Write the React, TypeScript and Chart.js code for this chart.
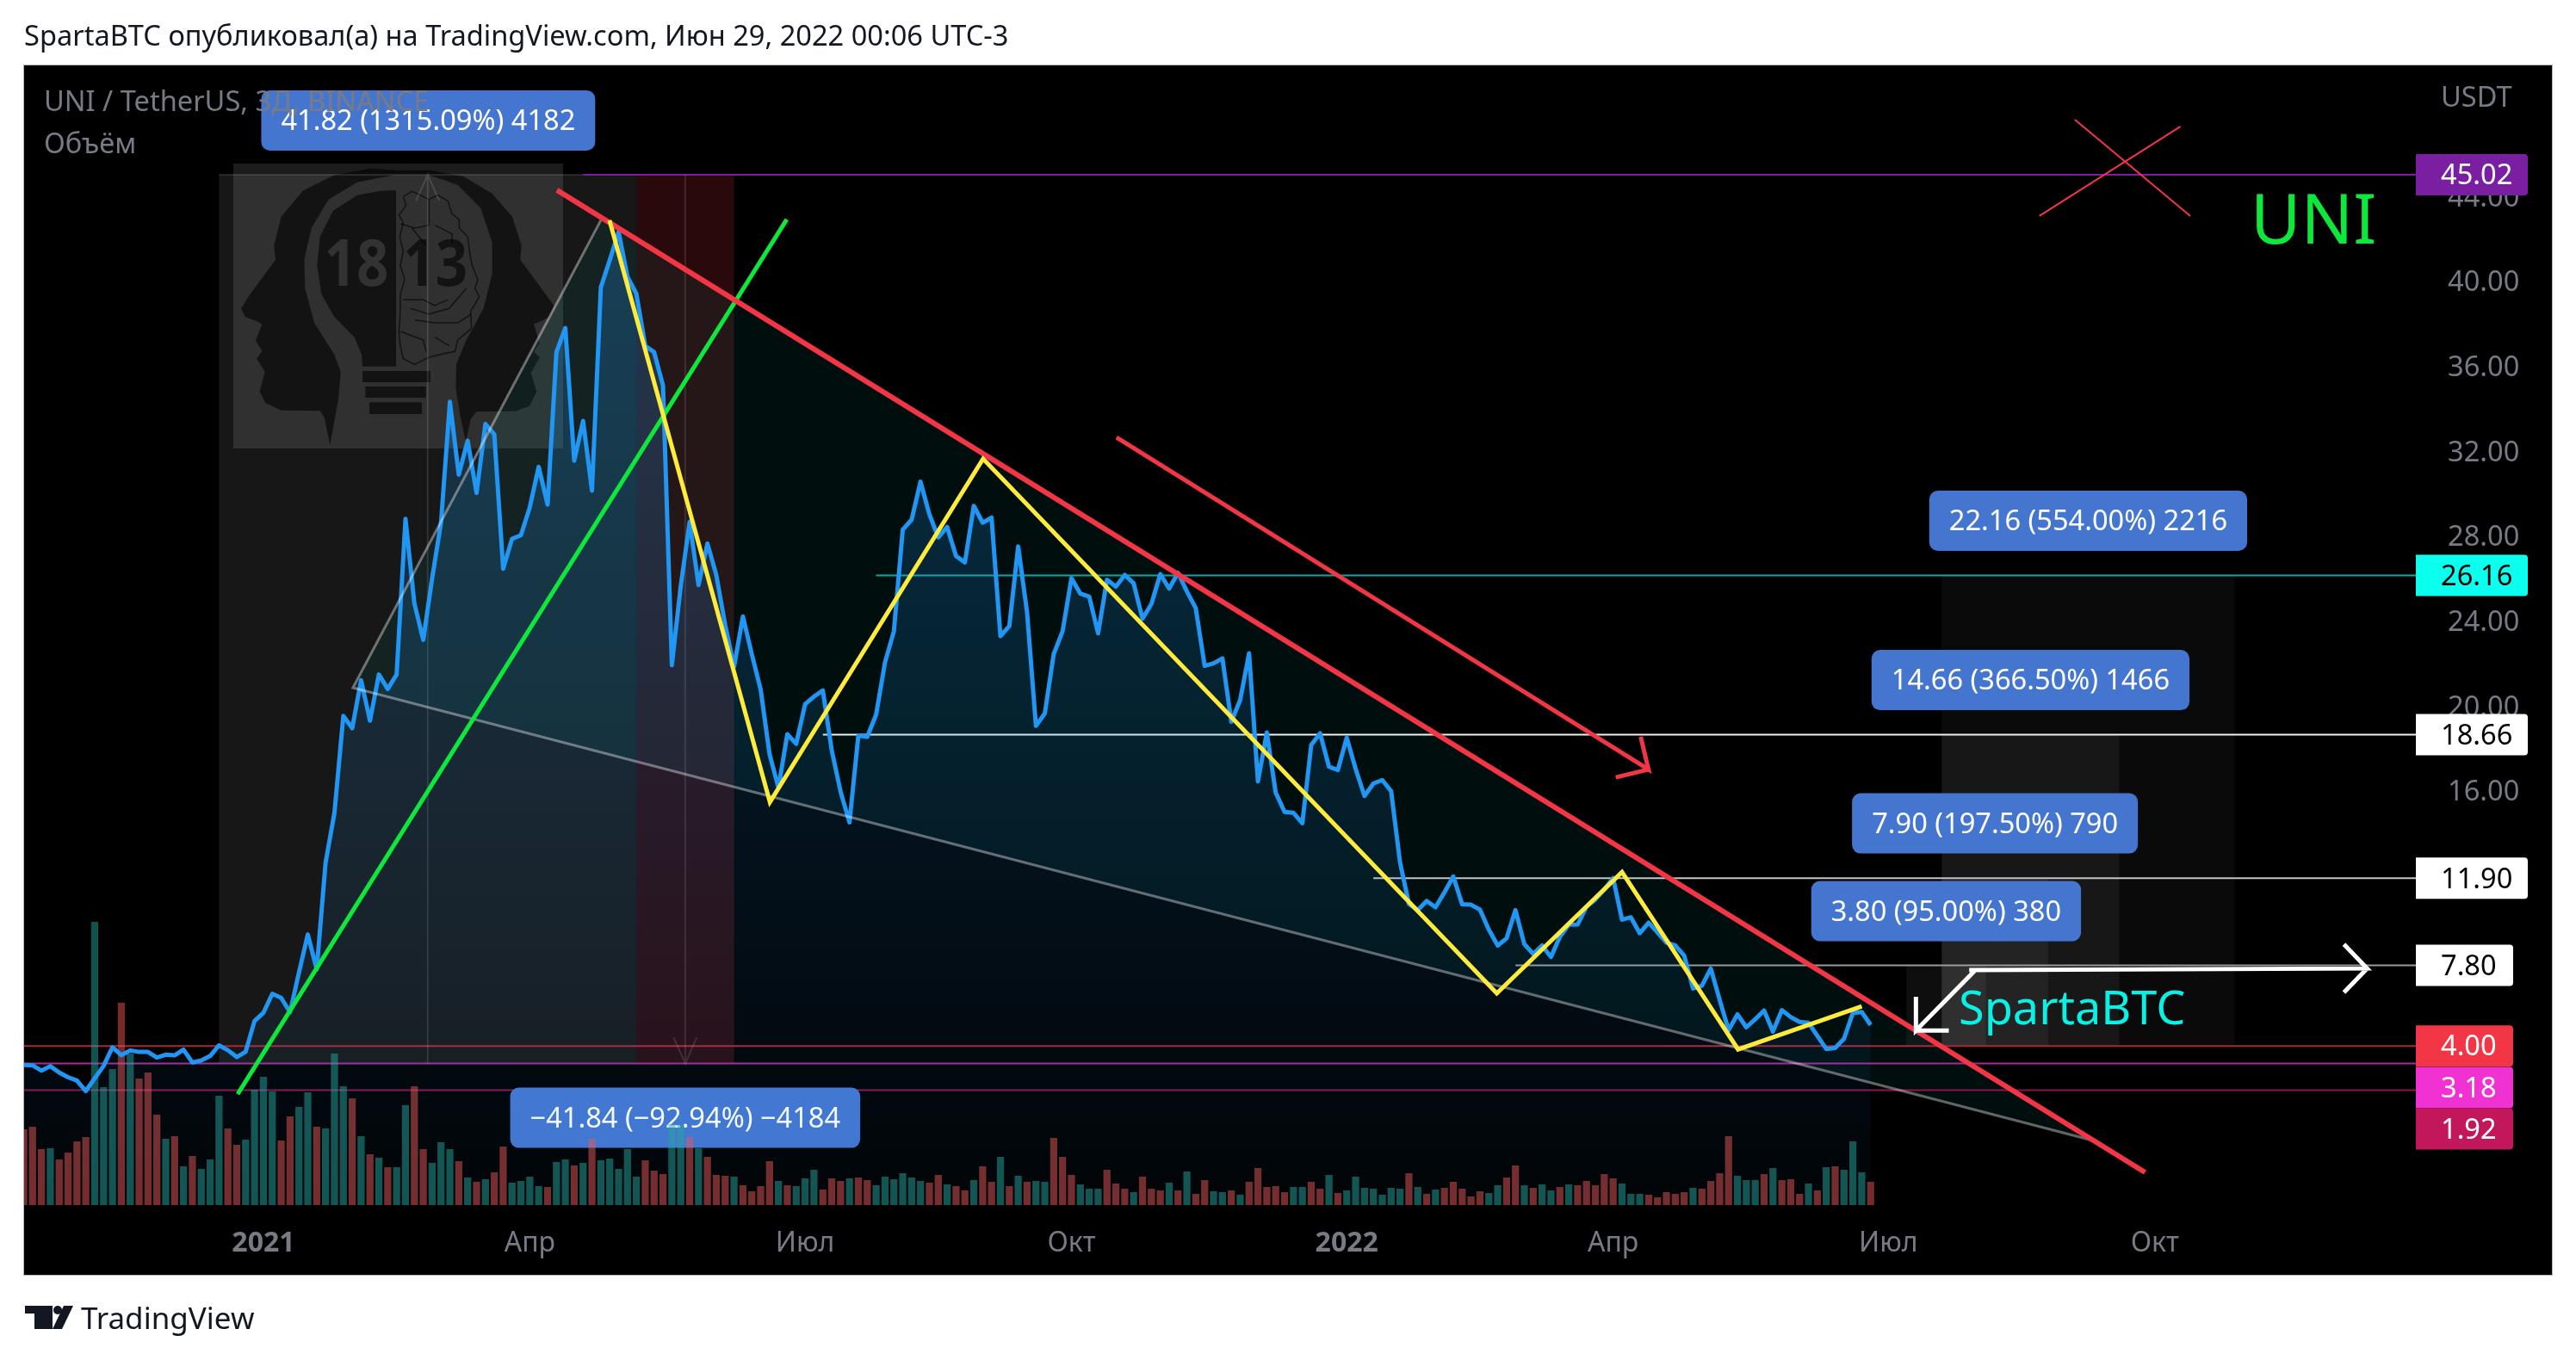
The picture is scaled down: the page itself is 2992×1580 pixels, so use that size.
import Chart from 'chart.js/auto';
import { useEffect, useRef } from 'react';

// bars are counted from the first 3-day candle of 2021, older ones are negative
const firstBar = -27;

const closes = [
    3.11, 3.09, 2.84, 3.05, 2.75, 2.53, 2.37, 1.88,
    2.48, 3.06, 3.94, 3.57, 3.79, 3.72, 3.72, 3.46, 3.59, 3.56,
    3.83, 3.22, 3.32, 3.53, 4.03, 3.80, 3.48, 3.73, 5.18, 5.56,
    6.46, 6.27, 5.59, 7.45, 9.25, 7.60, 12.63, 14.98, 19.54, 18.96,
    21.22, 19.32, 21.49, 20.81, 21.49, 28.82, 24.84, 23.12, 26.02, 28.64,
    34.33, 30.90, 32.50, 30.04, 33.29, 32.80, 26.47, 27.88, 28.05, 29.37,
    31.27, 29.49, 36.67, 37.81, 31.56, 33.43, 30.15, 39.72, 41.00, 42.33,
    40.21, 39.42, 36.97, 36.67, 35.10, 21.93, 25.67, 28.68, 25.70, 27.66,
    26.18, 23.83, 21.86, 24.22, 22.45, 20.78, 17.74, 16.16, 18.68, 18.23,
    20.09, 20.45, 20.74, 17.93, 15.97, 14.53, 18.62, 18.56, 19.60, 22.06,
    23.53, 28.31, 28.78, 30.57, 29.03, 27.95, 28.44, 27.07, 26.77, 29.43,
    28.64, 28.88, 23.30, 23.77, 27.52, 24.42, 19.07, 19.66, 22.45, 23.53,
    26.03, 25.30, 25.16, 23.43, 25.95, 25.63, 26.18, 25.79, 24.12, 24.81,
    26.22, 25.54, 26.28, 25.40, 24.61, 21.90, 22.02, 22.25, 19.27, 20.29,
    22.49, 16.46, 18.76, 15.93, 15.02, 14.98, 14.49, 18.17, 18.72, 17.15,
    16.99, 18.52, 17.05, 15.77, 16.36, 16.52, 16.00, 12.65, 10.69, 10.40,
    10.83, 10.53, 11.23, 11.98, 10.67, 10.65, 10.42, 9.48, 8.73, 9.07,
    10.40, 8.80, 8.33, 8.73, 8.19, 9.14, 9.71, 9.72, 10.56, 10.90,
    11.37, 11.91, 9.95, 10.06, 9.31, 9.81, 9.34, 8.87, 8.73, 8.26,
    6.71, 6.84, 7.65, 6.17, 4.75, 5.49, 4.88, 5.26, 5.67, 4.68,
    5.69, 5.36, 5.13, 5.09, 4.48, 3.86, 3.91, 4.34, 5.56, 5.60, 4.99,
];

const volumes = [
    88, 91, 65, 66, 53, 61, 74, 79,
    329, 137, 158, 235, 176, 147, 154, 105, 77, 80,
    45, 57, 42, 53, 127, 89, 70, 76, 134, 149,
    132, 75, 103, 114, 131, 91, 89, 176, 138, 124,
    80, 59, 55, 44, 44, 116, 138, 65, 49, 73,
    65, 51, 32, 27, 30, 38, 68, 26, 28, 33,
    22, 21, 50, 53, 46, 49, 77, 52, 54, 42,
    65, 33, 52, 40, 36, 94, 93, 79, 66, 56,
    35, 34, 33, 23, 16, 22, 51, 28, 23, 22,
    31, 41, 18, 31, 28, 31, 32, 29, 23, 33,
    30, 37, 32, 28, 26, 35, 24, 22, 17, 29,
    45, 27, 56, 22, 34, 27, 28, 27, 78, 56,
    35, 24, 19, 19, 41, 25, 19, 15, 33, 19,
    17, 26, 17, 39, 13, 29, 16, 15, 17, 12,
    27, 43, 21, 22, 15, 21, 21, 27, 19, 35,
    14, 17, 33, 20, 19, 12, 20, 19, 37, 21,
    13, 18, 20, 27, 19, 10, 16, 14, 23, 32,
    46, 23, 20, 24, 17, 21, 24, 23, 28, 23,
    36, 31, 25, 13, 13, 12, 9, 15, 13, 15,
    20, 19, 28, 37, 80, 34, 29, 29, 36, 43,
    29, 30, 13, 25, 17, 44, 45, 41, 74, 38, 27,
];

// R = candle closed down, G = closed up
const volumeDirs = (
    'RRRGRRRR' + 'GGGRGRRRGR' + 'GRGGGRRGGG' + 'GRRGGRGGGR' + 'GRGRGGRRGG' +
    'GRGRGRRGGG' + 'GRGGRGRGGG' + 'GGRRRGGRGR' + 'RRGRRRRGRG' + 'GGRRRGRRGG' +
    'GGGGRRGRRG' + 'RRGRGRGGRR' + 'RGGGRRRGRR' + 'RGRGRRGGRG' + 'RRRRRGGRRG' +
    'RGGGGGGGRG' + 'RGRRRRRGGR' + 'RGRGGRGRRR' + 'RRGGGRR'
).split('');

const xTickBars = [0, 30, 61, 91, 122, 152, 183, 213];
const xTickLabels = ['2021', 'Апр', 'Июл', 'Окт', '2022', 'Апр', 'Июл', 'Окт'];
const boldTicks = ['2021', '2022'];
const yTicks = [4, 8, 12, 16, 20, 24, 28, 32, 36, 40, 44];

const levelPrices = [45.02, 26.16, 18.66, 11.9, 7.8, 4, 3.18, 1.92];
const levelStarts = [36, 69, 63, 125, 141, -27, -27, -27];
const levelColors = ['#7b1fa2', '#13a6a6', '#f0f0f0', '#c4c4c4', '#9a9a9a', '#a8283c', '#a92a96', '#8a1548'];
const badgeColors = ['#7b1fa2', '#0affee', '#ffffff', '#ffffff', '#ffffff', '#f23645', '#f032d2', '#c2185b'];
const badgeTextColors = ['#fff', '#000', '#000', '#000', '#000', '#fff', '#fff', '#fff'];
const badgeWidths = [130, 130, 130, 130, 113, 113, 113, 113];
const badgeShifts = [0, 0, 0, 0, 0, 0, 28, 45];

const zigzagBars = [38.97, 57.04, 81.05, 138.9, 153, 166.07, 180];
const zigzagPrices = [42.88, 15.48, 31.65, 6.48, 12.19, 3.84, 5.87];
const mainTrendBars = [33.06, 211.9];
const mainTrendPrices = [44.3, -1.95];
const greenTrendBars = [-2.9, 58.94];
const greenTrendPrices = [1.73, 42.92];
const arrowBars = [96.07, 155.98, 155.1, 155.98, 152.3];
const arrowPrices = [32.66, 17.02, 18.56, 17.02, 16.65];
const wedgeBars = [38, 10.08, 206.4];
const wedgePrices = [42.88, 20.87, -0.49];
const crossABars = [204, 217];
const crossAPrices = [47.62, 43.08];
const crossBBars = [215.9, 200];
const crossBPrices = [47.3, 43.08];
const whiteRightBars = [192.1, 236.9, 234.3, 236.9, 234.3];
const whiteRightPrices = [7.57, 7.65, 8.79, 7.65, 6.52];
const whiteDiagBars = [192.7, 186.1, 186.1, 186.1, 189.8];
const whiteDiagPrices = [7.53, 4.73, 6.32, 4.73, 4.73];
const upRangeBars = [18.5, 18.5, 17.2, 18.5, 19.8];
const upRangePrices = [3.18, 45.02, 43.8, 45.02, 43.8];
const downRangeBars = [47.5, 47.5, 46.2, 47.5, 48.8];
const downRangePrices = [45.02, 3.18, 4.4, 3.18, 4.4];
const rangeTopBars = [-5, 36];
const rangeTopPrices = [45.02, 45.02];

// [from bar, to bar, top price, bottom price]
const rangeBoxes = [
    [-5, 42, 45.02, 3.18],
    [189, 222, 26.16, 4],
    [189, 209, 18.66, 4],
    [189, 201, 11.9, 4],
    [185, 194, 7.8, 4],
];
const dropBox = [42, 53, 45.02, 3.18];

const calloutTexts = [
    '41.82 (1315.09%) 4182',
    '22.16 (554.00%) 2216',
    '14.66 (366.50%) 1466',
    '7.90 (197.50%) 790',
    '3.80 (95.00%) 380',
    '−41.84 (−92.94%) −4184',
];
const calloutBars = [18.56, 205.5, 199, 195, 189.5, 47.5];
const calloutPrices = [47.58, 28.73, 21.23, 14.48, 10.35, 0.62];

const FONT = '"Noto Sans", sans-serif';
const GREY = '#787b86';
const LOGO_DARK = 'rgba(0,0,0,0.6)';

const toPoints = (xs, ys) => xs.map((x, i) => ({ x, y: ys[i] }));

const overlayLine = (label, xs, ys, color, width, order) => ({
    type: 'line',
    label,
    data: toPoints(xs, ys),
    yAxisID: 'y',
    borderColor: color,
    borderWidth: width,
    pointRadius: 0,
    tension: 0,
    fill: false,
    order,
});

const roundBox = (ctx, x, y, w, h, r) => {
    ctx.beginPath();
    ctx.roundRect(x, y, w, h, r);
    ctx.fill();
};

const polygon = (ctx, pts) => {
    ctx.beginPath();
    pts.forEach((p, i) => (i ? ctx.lineTo(p[0], p[1]) : ctx.moveTo(p[0], p[1])));
    ctx.closePath();
    ctx.fill();
};

// the author's watermark, traced by hand from a crop (3x, origin 265,185)
const logoX = (v) => 265 + v / 3;
const logoY = (v) => 185 + v / 3;
const logoHeads = [
    [355, 995], [335, 900], [320, 877], [185, 875], [130, 850], [110, 810], [128, 740], [100, 695], [118, 668], [96, 632], [118, 575], [100, 565], [60, 550], [45, 520], [70, 480], [165, 350], [160, 300], [185, 200], [260, 110], [370, 55], [500, 32], [600, 40],
    [700, 38], [820, 60], [920, 120], [990, 200], [1022, 300], [1018, 350], [1135, 510], [1120, 550], [1065, 575], [1085, 640], [1065, 670], [1085, 690], [1055, 745], [1075, 810], [1050, 860], [1000, 878], [865, 880], [845, 905], [828, 985],
    [810, 900], [793, 800], [795, 715], [830, 630], [890, 520], [920, 400], [920, 290], [880, 170], [800, 90], [700, 55], [580, 55], [450, 80], [350, 140], [290, 240], [265, 350], [268, 450], [300, 570], [370, 680], [392, 740], [385, 830],
];
const logoLeft = [[585, 108], [585, 722], [468, 722], [465, 680], [440, 620], [370, 550], [325, 470], [310, 370], [320, 270], [365, 180], [450, 125], [530, 110]];
const logoSlots = [[468, 738, 704, 777], [478, 792, 689, 831], [492, 847, 675, 888]];
const logoBrainLines = [
    [[610, 130], [640, 112], [670, 125], [700, 140], [730, 125], [765, 145], [780, 190], [805, 210], [805, 240], [835, 270], [842, 330], [850, 370], [870, 420], [860, 450], [875, 480], [845, 530], [848, 590], [800, 630], [790, 670], [740, 680], [700, 690], [650, 715], [610, 695], [600, 650], [595, 600], [600, 530], [600, 470], [615, 420], [600, 370], [610, 320], [598, 270], [610, 220], [595, 195], [620, 160], [610, 130]],
    [[700, 140], [700, 230], [650, 240], [600, 225]],
    [[720, 230], [780, 260], [780, 290]],
    [[640, 240], [690, 300]],
    [[610, 490], [680, 490], [720, 510], [765, 490]],
    [[635, 520], [700, 540], [770, 520], [830, 450]],
    [[650, 560], [720, 570], [800, 570], [848, 540]],
    [[600, 600], [680, 630], [690, 670]],
    [[720, 620], [770, 650]],
];

const drawLogo = (ctx) => {
    const shape = (pts) => pts.map((p) => [logoX(p[0]), logoY(p[1])]);
    ctx.fillStyle = 'rgba(255,255,255,0.11)';
    ctx.fillRect(271, 190, 383, 331);
    ctx.fillStyle = LOGO_DARK;
    polygon(ctx, shape(logoHeads));
    polygon(ctx, shape(logoLeft));
    logoSlots.forEach((s) => {
        ctx.fillRect(logoX(s[0]), logoY(s[1]), (s[2] - s[0]) / 3, (s[3] - s[1]) / 3);
    });
    ctx.strokeStyle = LOGO_DARK;
    ctx.lineWidth = 1.5;
    logoBrainLines.forEach((line) => {
        ctx.beginPath();
        shape(line).forEach((p, i) => (i ? ctx.lineTo(p[0], p[1]) : ctx.moveTo(p[0], p[1])));
        ctx.stroke();
    });
    ctx.font = `bold 76px ${FONT}`;
    ctx.textAlign = 'center';
    ctx.textBaseline = 'middle';
    const digits = (text, zx, color) => {
        ctx.save();
        ctx.translate(logoX(zx), logoY(376));
        ctx.scale(0.86, 1);
        ctx.fillStyle = color;
        ctx.fillText(text, 0, 0);
        ctx.restore();
    };
    digits('18', 447, '#323232');
    digits('13', 722, LOGO_DARK);
};

const paintingPlugin = {
    id: 'painting',
    beforeDraw(chart) {
        const { ctx } = chart;
        ctx.save();
        ctx.fillStyle = '#ffffff';
        ctx.fillRect(0, 0, chart.width, chart.height);
        ctx.fillStyle = '#000000';
        ctx.fillRect(28, 76, 2936, 1405);
        ctx.strokeStyle = '#b2b5be';
        ctx.lineWidth = 1;
        ctx.strokeRect(27.5, 75.5, 2937, 1406);

        ctx.fillStyle = '#131722';
        ctx.textAlign = 'left';
        ctx.textBaseline = 'middle';
        ctx.font = `32.6px ${FONT}`;
        ctx.fillText('SpartaBTC опубликовал(а) на TradingView.com, Июн 29, 2022 00:06 UTC-3', 28, 44);
        ctx.font = `35px ${FONT}`;
        ctx.fillText('TradingView', 94, 1534);
        ctx.fillRect(29, 1517, 32, 9);
        ctx.fillRect(40, 1517, 21, 27);
        ctx.beginPath();
        ctx.arc(67, 1522, 5, 0, Math.PI * 2);
        ctx.fill();
        polygon(ctx, [[74, 1517], [85, 1517], [72, 1544], [61, 1544]]);
        ctx.restore();
    },
    beforeDatasetsDraw(chart) {
        const { ctx, scales } = chart;
        const { x, y } = scales;
        ctx.save();
        const fillBox = (b, color) => {
            ctx.fillStyle = color;
            ctx.fillRect(x.getPixelForValue(b[0]), y.getPixelForValue(b[2]),
                x.getPixelForValue(b[1]) - x.getPixelForValue(b[0]), y.getPixelForValue(b[3]) - y.getPixelForValue(b[2]));
        };
        fillBox(rangeBoxes[0], 'rgba(255,255,255,0.09)');
        fillBox(dropBox, 'rgba(242,54,69,0.17)');
        drawLogo(ctx);
        rangeBoxes.slice(1).forEach((b, i) => fillBox(b, i === 0 ? 'rgba(255,255,255,0.04)' : 'rgba(255,255,255,0.055)'));
        ctx.fillStyle = 'rgba(0,150,160,0.09)';
        polygon(ctx, wedgeBars.map((b, i) => [x.getPixelForValue(b), y.getPixelForValue(wedgePrices[i])]));
        ctx.restore();
    },
    beforeDatasetDraw(chart, args) {
        // callouts sit under the volume bars
        if (chart.data.datasets[args.index].label !== 'Объём') return;
        const { ctx, scales } = chart;
        ctx.save();
        ctx.font = `32.6px ${FONT}`;
        ctx.textAlign = 'center';
        ctx.textBaseline = 'middle';
        calloutTexts.forEach((text, i) => {
            const cx = scales.x.getPixelForValue(calloutBars[i]);
            const cy = scales.y.getPixelForValue(calloutPrices[i]);
            const w = ctx.measureText(text).width + 46;
            ctx.fillStyle = '#4476d0';
            roundBox(ctx, cx - w / 2, cy - 35, w, 70, 10);
            ctx.fillStyle = '#ffffff';
            ctx.fillText(text, cx, cy + 2);
        });
        ctx.restore();
    },
    afterDatasetsDraw(chart) {
        const { ctx, scales } = chart;
        ctx.save();
        ctx.textBaseline = 'middle';
        ctx.textAlign = 'left';

        ctx.fillStyle = GREY;
        ctx.font = `32.6px ${FONT}`;
        ctx.fillText('UNI / TetherUS, 3Д, BINANCE', 51, 120);
        ctx.fillText('Объём', 51, 169);
        ctx.fillText('USDT', 2835, 115);

        ctx.fillStyle = '#0ee83c';
        ctx.font = `80px ${FONT}`;
        ctx.fillText('UNI', 2614, 260);
        ctx.fillStyle = '#0af0e4';
        ctx.font = `54px ${FONT}`;
        ctx.fillText('SpartaBTC', 2275, 1175);

        ctx.font = `32.6px ${FONT}`;
        levelPrices.forEach((p, i) => {
            const cy = scales.y.getPixelForValue(p) + badgeShifts[i];
            ctx.fillStyle = badgeColors[i];
            roundBox(ctx, 2806, cy - 24, badgeWidths[i], 48, [0, 4, 4, 0]);
            ctx.fillStyle = badgeTextColors[i];
            ctx.fillText(p.toFixed(2), 2835, cy + 2);
        });
        ctx.restore();
    },
};

export default function App() {
    const chartRef = useRef(null);

    useEffect(() => {
        const areaFill = (c) => {
            const { ctx, chartArea } = c.chart;
            if (!chartArea) return 'rgba(33,150,243,0.1)';
            const g = ctx.createLinearGradient(0, 250, 0, chartArea.bottom);
            g.addColorStop(0, 'rgba(33,150,243,0.26)');
            g.addColorStop(1, 'rgba(33,150,243,0.03)');
            return g;
        };

        const bars = closes.map((_, i) => i + firstBar);

        const datasets = [
            ...levelPrices.map((p, i) =>
                overlayLine('level ' + p, [levelStarts[i], 243], [p, p], levelColors[i], 2, 20)),
            overlayLine('up range', upRangeBars, upRangePrices, 'rgba(255,255,255,0.12)', 2, 19),
            overlayLine('down range', downRangeBars, downRangePrices, 'rgba(255,255,255,0.12)', 2, 19),
            overlayLine('range top', rangeTopBars, rangeTopPrices, 'rgba(255,255,255,0.12)', 2, 19),
            {
                type: 'bar',
                label: 'Объём',
                data: toPoints(bars, volumes),
                yAxisID: 'yVol',
                backgroundColor: volumeDirs.map((d) => (d === 'R' ? 'rgba(239,83,80,0.5)' : 'rgba(38,166,154,0.5)')),
                barPercentage: 0.8,
                categoryPercentage: 1,
                order: 10,
            },
            {
                type: 'line',
                label: 'UNI / TetherUS',
                data: toPoints(bars, closes),
                yAxisID: 'y',
                borderColor: '#2196f3',
                borderWidth: 5,
                borderJoinStyle: 'round',
                pointRadius: 0,
                tension: 0,
                fill: 'start',
                backgroundColor: areaFill,
                order: 8,
            },
            overlayLine('wedge', wedgeBars, wedgePrices, 'rgba(255,255,255,0.38)', 3, 7),
            overlayLine('green trend', greenTrendBars, greenTrendPrices, '#0ee83c', 5, 6),
            overlayLine('main trend', mainTrendBars, mainTrendPrices, '#f23645', 6, 5),
            overlayLine('arrow', arrowBars, arrowPrices, '#f23645', 5, 5),
            overlayLine('zigzag', zigzagBars, zigzagPrices, '#ffeb3b', 5, 4),
            overlayLine('cross a', crossABars, crossAPrices, '#f23645', 2, 3),
            overlayLine('cross b', crossBBars, crossBPrices, '#f23645', 2, 3),
            overlayLine('target arrow', whiteRightBars, whiteRightPrices, '#ffffff', 5, 2),
            overlayLine('back arrow', whiteDiagBars, whiteDiagPrices, '#ffffff', 5, 2),
        ];

        const myChart = new Chart(chartRef.current, {
            type: 'line',
            data: { datasets },
            plugins: [paintingPlugin],
            options: {
                responsive: false,
                devicePixelRatio: 1,
                animation: false,
                events: [],
                layout: { padding: { left: 28, top: 77, right: 28, bottom: 99 } },
                plugins: { legend: { display: false }, tooltip: { enabled: false } },
                scales: {
                    x: {
                        type: 'linear',
                        min: -26.95,
                        max: 242.4,
                        offset: false,
                        border: { display: false },
                        grid: { display: false, offset: false },
                        afterFit: (s) => { s.height = 81; },
                        afterBuildTicks: (s) => { s.ticks = xTickBars.map((value) => ({ value })); },
                        ticks: {
                            autoSkip: false,
                            maxRotation: 0,
                            padding: 18,
                            color: GREY,
                            font: (c) => ({
                                family: FONT,
                                size: 32,
                                weight: boldTicks.includes(xTickLabels[xTickBars.indexOf(c.tick?.value)]) ? 'bold' : 'normal',
                            }),
                            callback: (v) => xTickLabels[xTickBars.indexOf(v)],
                        },
                    },
                    y: {
                        type: 'linear',
                        position: 'right',
                        min: -3.49,
                        max: 50.13,
                        border: { display: false },
                        grid: { display: false },
                        afterFit: (s) => { s.width = 158; },
                        afterBuildTicks: (s) => { s.ticks = yTicks.map((value) => ({ value })); },
                        ticks: {
                            autoSkip: false,
                            padding: 29,
                            labelOffset: 2,
                            color: GREY,
                            font: { family: FONT, size: 32.6 },
                            callback: (v) => v.toFixed(2),
                        },
                    },
                    yVol: {
                        type: 'linear',
                        display: false,
                        min: 0,
                        max: 1323,
                    },
                },
            },
        });

        return () => {
            myChart.destroy();
        };
    }, []);

    return (
        <div style={{ position: 'absolute', left: 0, top: 0 }}>
            <canvas ref={chartRef} width={2992} height={1580} style={{ display: 'block' }}></canvas>
        </div>
    );
}
